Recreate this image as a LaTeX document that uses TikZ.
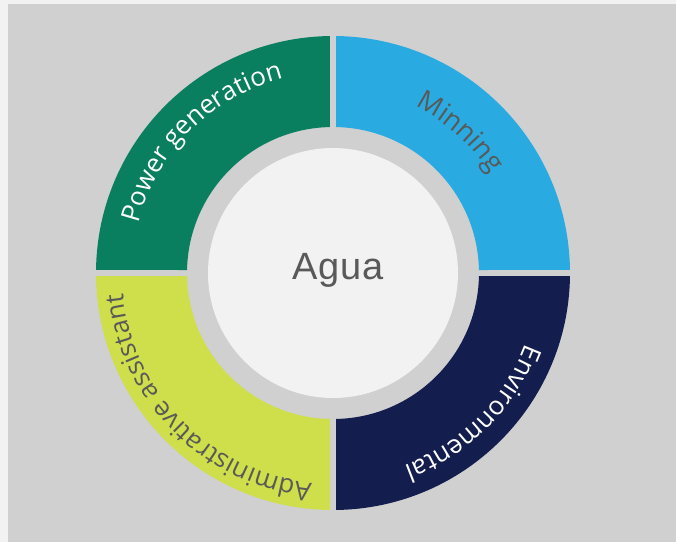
\documentclass[tikz,border=0pt]{standalone}
\usepackage{fontspec}
\setsansfont{Open Sans}
\newfontfamily\aguafont[LetterSpace=2]{Liberation Sans}
\usepackage{tikz}
\usetikzlibrary{decorations.text}

\definecolor{pagegray}{HTML}{F2F2F2}
\definecolor{bggray}{HTML}{D0D0D0}
\definecolor{powergreen}{HTML}{0A7F5F}
\definecolor{minningblue}{HTML}{29ABE2}
\definecolor{envnavy}{HTML}{131D4E}
\definecolor{adminyellow}{HTML}{CFDE4B}
\definecolor{textgray}{HTML}{595959}

\newcommand\ringfont{\sffamily\fontsize{26}{30}\selectfont}

\begin{document}
\begin{tikzpicture}[x=1pt,y=1pt,
		quarter/.style={fill=#1},
		ring text/.style={decorate,decoration={text along path,text align=center,text={#1}}}]
		
		\useasboundingbox (-333,-269) rectangle (343,273);
		\fill[pagegray] (-333,-269) rectangle (343,273);
		\fill[bggray] (-325,-269) rectangle (343,269);
		
		% four quarters of the ring, 6pt apart
		\foreach \col/\rot in {minningblue/0,powergreen/90,adminyellow/180,envnavy/270}
		\fill[quarter=\col, rotate=\rot] (0.73:237) arc[start angle=0.73,end angle=89.27,radius=237]
		-- (88.82:146) arc[start angle=88.82,end angle=1.18,radius=146] -- cycle;
		
		\node[circle, fill=pagegray, minimum size=250pt, inner sep=0pt] (hub) at (0,0) {};
		\node[font=\aguafont\fontsize{38}{42}\selectfont, text=textgray] (agua) at (5,3) {Agua};
		
		\path[ring text={|\ringfont\color{white}|Power generation}] (180:201) arc (180:90:201);
		\path[ring text={|\sffamily\fontsize{27}{30}\selectfont\color{textgray}|Minning}] (93:186) arc (93:3:186);
		\path[ring text={|\ringfont\color{white}|Environmental}] (0:205) arc (0:-90:205);
		\path[ring text={|\ringfont\color{textgray}|Administrative assistant}] (-90:211) arc (-90:-180:211);
\end{tikzpicture}
\end{document}
